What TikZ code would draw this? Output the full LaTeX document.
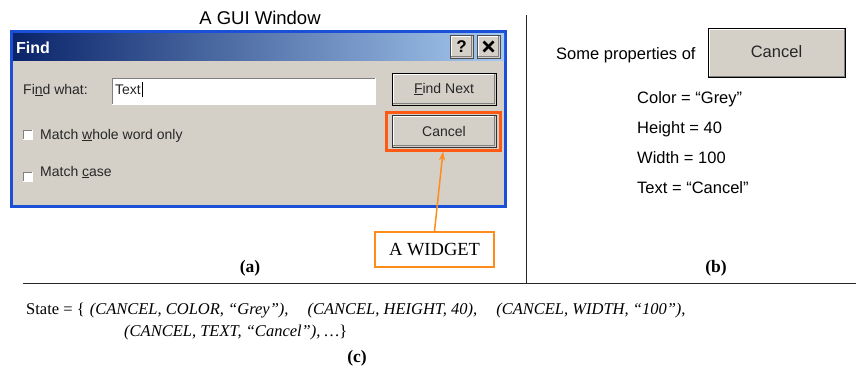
\documentclass[tikz,border=0pt]{standalone}
\usepackage{fontspec}
\setmainfont{Liberation Serif}
\setsansfont{Liberation Sans}
\usetikzlibrary{arrows.meta}
\definecolor{winbg}{HTML}{D4D0C8}
\definecolor{winblue}{HTML}{1C4FD8}
\definecolor{tbdark}{HTML}{0A246A}
\definecolor{tblight}{HTML}{A6CAF0}
\definecolor{hlorange}{HTML}{FF5A14}
\definecolor{arrorange}{HTML}{FF8C1A}
\definecolor{shadowgrey}{HTML}{808080}
\newcommand\raisedbevel[1]{%
  \draw[white,line width=1pt] ([shift={(1.5pt,1.5pt)}]#1.south west) |- ([shift={(-1.5pt,-1.5pt)}]#1.north east);
  \draw[shadowgrey,line width=1pt] ([shift={(1.5pt,1.5pt)}]#1.south west) -| ([shift={(-1.5pt,-1.5pt)}]#1.north east);}
\newcommand\sunkenbevel[1]{%
  \draw[shadowgrey,line width=1pt] ([shift={(0.5pt,0.5pt)}]#1.south west) |- ([shift={(-0.5pt,-0.5pt)}]#1.north east);
  \draw[white,line width=1pt] ([shift={(0.5pt,0.5pt)}]#1.south west) -| ([shift={(-0.5pt,-0.5pt)}]#1.north east);}
\begin{document}
\begin{tikzpicture}[x=1pt,y=-1pt,
  wintxt/.style={font=\sffamily\fontsize{14}{16}\selectfont, anchor=base west, inner sep=0pt, text=black!85},
  btn/.style={draw=black!80, fill=winbg, line width=0.8pt, minimum width=104pt, minimum height=32pt, inner sep=0pt, font=\sffamily\fontsize{14}{16}\selectfont, text=black!85},
  tbbtn/.style={draw=black!70, fill=winbg, line width=0.6pt, minimum width=23pt, minimum height=23pt, inner sep=0pt},
  chk/.style={fill=white, minimum width=10pt, minimum height=10pt, inner sep=0pt},
  proptxt/.style={font=\sffamily\fontsize{16.5}{19}\selectfont, anchor=base west, inner sep=0pt},
  subcap/.style={font=\bfseries\fontsize{17.5}{20}\selectfont, anchor=base, inner sep=0pt},
  statetxt/.style={font=\fontsize{16.5}{18}\selectfont, anchor=base west, inner sep=0pt}]
\useasboundingbox (0,0) rectangle (857,367);

% frame lines
\coordinate (vtop) at (526,15);
\coordinate (vbot) at (526,283.5);
\coordinate (hl) at (23,283.5);
\coordinate (hr) at (856,283.5);
\draw[line width=1pt, black!85] (vtop) -- (vbot);
\draw[line width=1.2pt, black!85] (hl) -- (hr);

% (a) GUI window
\node[font=\sffamily\fontsize{18.5}{21}\selectfont, anchor=base, inner sep=0pt] (guititle) at (260,24.5) {A GUI Window};
\fill[winblue] (10,30) rectangle (507,208);
\fill[winbg] (13,33) rectangle (504,205);
\fill[left color=tbdark, right color=tblight] (13,33) rectangle (504,60);
\node[font=\sffamily\bfseries\fontsize{16}{18}\selectfont, text=white, anchor=base west, inner sep=0pt] (findtitle) at (16,53) {Find};
\node[tbbtn] (qbtn) at (461.5,46.5) {};
\raisedbevel{qbtn}
\node[font=\sffamily\bfseries\fontsize{17}{19}\selectfont, inner sep=0pt] (qmark) at (qbtn) {?};
\node[tbbtn] (xbtn) at (488.5,46.5) {};
\raisedbevel{xbtn}
\draw[line width=2.6pt] ([shift={(-5pt,5pt)}]xbtn.center) -- ([shift={(5pt,-5pt)}]xbtn.center);
\draw[line width=2.6pt] ([shift={(-5pt,-5pt)}]xbtn.center) -- ([shift={(5pt,5pt)}]xbtn.center);

\node[wintxt] (findwhat) at (23,94) {Fi\underline{n}d what:};
\node[fill=white, minimum width=264pt, minimum height=27pt, inner sep=0pt] (field) at (244,91.5) {};
\sunkenbevel{field}
\node[wintxt] (fieldtxt) at (115,94) {Text};
\draw[line width=0.7pt] ([xshift=1pt,yshift=-3pt]fieldtxt.base east) -- ([xshift=1pt,yshift=12pt]fieldtxt.base east);

\node[btn, draw=black] (findnext) at (444,89) {\underline{F}ind Next};
\raisedbevel{findnext}
\node[btn] (cancel) at (444,131) {};
\raisedbevel{cancel}
\node[font=\sffamily\fontsize{14}{16}\selectfont, text=black!85, inner sep=0pt] (canceltxt) at (444,131) {Cancel};

\node[chk] (chk1) at (28,135) {};
\sunkenbevel{chk1}
\node[wintxt] (mwwo) at (40,139) {Match \underline{w}hole word only};
\node[chk] (chk2) at (28,177) {};
\sunkenbevel{chk2}
\node[wintxt] (mcase) at (40,176) {Match \underline{c}ase};

\node[draw=hlorange, line width=3pt, minimum width=114pt, minimum height=38pt, inner sep=0pt] (hlbox) at (443,131) {};

\node[draw=arrorange, line width=1.5pt, fill=white, minimum width=119pt, minimum height=35pt, inner sep=0pt, font=\fontsize{18.5}{21}\selectfont] (widget) at (434.5,249.5) {A WIDGET};
\draw[arrorange, line width=1.5pt, -{Stealth[length=9pt,width=6pt]}] (widget.north) -- (hlbox.south);

\node[subcap] (capa) at (250,272) {(a)};

% (b) properties
\node[proptxt] (someprop) at (556,59) {Some properties of};
\node[draw=black, line width=1pt, fill=winbg, minimum width=137pt, minimum height=49pt, inner sep=0pt] (bigcancel) at (776.5,52.5) {};
\raisedbevel{bigcancel}
\node[font=\sffamily\fontsize{16.5}{19}\selectfont, text=black!85, inner sep=0pt] (bigcanceltxt) at (776.5,51.5) {Cancel};
\node[proptxt] (pcolor) at (637,103) {Color = “Grey”};
\node[proptxt] (pheight) at (637,133) {Height = 40};
\node[proptxt] (pwidth) at (637,163) {Width = 100};
\node[proptxt] (ptext) at (637,193) {Text = “Cancel”};
\node[subcap] (capb) at (716,272) {(b)};

% (c) state
\node[statetxt] (state1) at (26,314.3) {State = \{ \hspace{1pt}\textit{(CANCEL, COLOR, “Grey”),\hspace{19pt}(CANCEL, HEIGHT, 40),\hspace{19pt}(CANCEL, WIDTH, “100”),}};
\node[statetxt] (state2) at (124,336) {\textit{(CANCEL, TEXT, “Cancel”), …}\}};
\node[subcap] (capc) at (357,362) {(c)};
\end{tikzpicture}
\end{document}
